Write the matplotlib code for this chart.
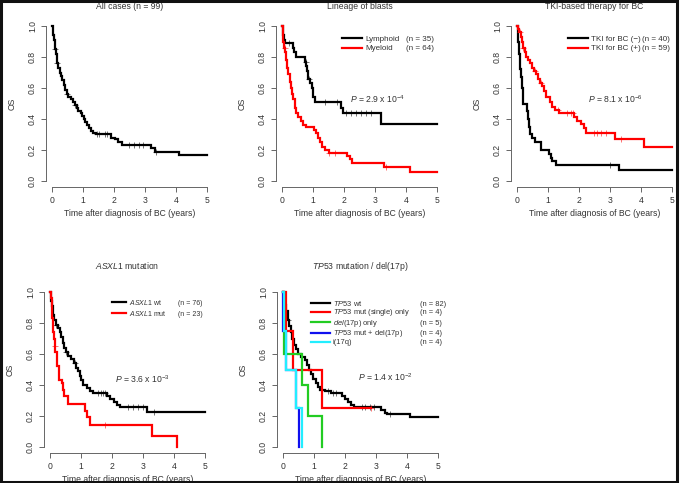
import numpy as np
import matplotlib.pyplot as plt
from matplotlib.patches import Rectangle

plt.rcParams['font.family'] = ['Liberation Sans', 'DejaVu Sans']
plt.rcParams['mathtext.fontset'] = 'custom'
plt.rcParams['mathtext.rm'] = 'Liberation Sans'
plt.rcParams['mathtext.it'] = 'Liberation Sans:italic'

# ---- all cases (n = 99)
all_t = [0, 0.02, 0.04, 0.06, 0.08, 0.10, 0.12, 0.14, 0.17, 0.20, 0.24, 0.29, 0.33, 0.37,
         0.42, 0.47, 0.52, 0.60, 0.68, 0.75, 0.80, 0.84, 0.92, 0.98, 1.02, 1.07, 1.12,
         1.18, 1.25, 1.32, 1.42, 1.90, 2.02, 2.12, 2.25, 3.18, 3.32, 4.10, 5.0]
all_s = [1.0, 0.97, 0.94, 0.91, 0.88, 0.85, 0.82, 0.79, 0.76, 0.73, 0.70, 0.68, 0.65, 0.62,
         0.59, 0.56, 0.54, 0.53, 0.51, 0.49, 0.47, 0.45, 0.44, 0.42, 0.40, 0.38, 0.36,
         0.34, 0.32, 0.31, 0.30, 0.28, 0.27, 0.25, 0.23, 0.21, 0.185, 0.165, 0.165]
all_ct = [0.10, 0.17, 0.49, 0.75, 1.44, 1.52, 1.72, 1.78, 2.48, 2.64, 2.80, 2.95, 3.35]

# ---- lineage of blasts
lym_t = [0, 0.03, 0.06, 0.10, 0.35, 0.38, 0.45, 0.73, 0.78, 0.80, 0.83, 0.90, 0.97, 1.00,
         1.05, 1.91, 1.97, 3.18, 5.0]
lym_s = [1.0, 0.94, 0.91, 0.89, 0.86, 0.83, 0.80, 0.77, 0.74, 0.71, 0.66, 0.63, 0.60, 0.54,
         0.51, 0.47, 0.44, 0.37, 0.37]
lym_ct = [0.22, 0.77, 0.86, 1.40, 1.78, 2.05, 2.22, 2.38, 2.54, 2.70, 2.86]
mye_t = [0, 0.02, 0.04, 0.07, 0.10, 0.12, 0.15, 0.19, 0.24, 0.28, 0.32, 0.36, 0.40, 0.42,
         0.46, 0.52, 0.60, 0.68, 0.78, 1.03, 1.10, 1.16, 1.23, 1.30, 1.40, 1.50, 2.10, 2.18,
         2.25, 3.29, 4.12, 5.0]
mye_s = [1.0, 0.95, 0.90, 0.86, 0.83, 0.78, 0.73, 0.69, 0.64, 0.60, 0.56, 0.53, 0.50, 0.47,
         0.44, 0.41, 0.39, 0.36, 0.35, 0.33, 0.31, 0.28, 0.25, 0.22, 0.20, 0.18, 0.16, 0.14,
         0.115, 0.09, 0.06, 0.06]
mye_ct = [0.09, 1.50, 1.72, 3.35]

# ---- TKI-based therapy
tkin_t = [0, 0.02, 0.05, 0.08, 0.10, 0.12, 0.15, 0.18, 0.20, 0.31, 0.35, 0.38, 0.42, 0.47,
          0.58, 0.78, 1.04, 1.08, 1.13, 1.25, 3.30, 5.0]
tkin_s = [1.0, 0.90, 0.82, 0.77, 0.72, 0.67, 0.60, 0.55, 0.50, 0.45, 0.40, 0.35, 0.30, 0.275,
          0.25, 0.20, 0.175, 0.15, 0.125, 0.10, 0.067, 0.067]
tkin_ct = [3.0]
tkip_t = [0, 0.03, 0.06, 0.12, 0.15, 0.20, 0.25, 0.30, 0.35, 0.42, 0.47, 0.55, 0.62, 0.68,
          0.73, 0.80, 0.87, 0.93, 1.05, 1.12, 1.22, 1.35, 1.85, 1.95, 2.05, 2.15, 2.22, 3.15,
          4.10, 5.0]
tkip_s = [1.0, 0.98, 0.96, 0.93, 0.90, 0.86, 0.83, 0.80, 0.78, 0.76, 0.73, 0.71, 0.69, 0.66,
          0.63, 0.61, 0.58, 0.54, 0.51, 0.48, 0.46, 0.44, 0.41, 0.39, 0.37, 0.34, 0.31, 0.27,
          0.22, 0.22]
tkip_ct = [0.10, 0.20, 0.56, 0.76, 1.32, 1.62, 1.74, 1.80, 2.47, 2.58, 2.72, 2.86, 3.35]

# ---- ASXL1
awt_t = [0, 0.02, 0.04, 0.06, 0.08, 0.10, 0.13, 0.18, 0.25, 0.32, 0.36, 0.40, 0.45, 0.50,
         0.58, 0.68, 0.76, 0.82, 0.90, 0.95, 1.00, 1.07, 1.18, 1.28, 1.40, 1.85, 1.95, 2.05,
         2.15, 2.25, 3.12, 5.0]
awt_s = [1.0, 0.97, 0.94, 0.91, 0.88, 0.85, 0.82, 0.79, 0.77, 0.74, 0.71, 0.67, 0.64, 0.61,
         0.59, 0.57, 0.54, 0.51, 0.49, 0.46, 0.43, 0.40, 0.38, 0.36, 0.35, 0.33, 0.31, 0.29,
         0.27, 0.255, 0.225, 0.225]
awt_ct = [0.20, 0.52, 0.80, 1.55, 1.65, 1.72, 1.78, 2.53, 2.69, 2.85, 3.01, 3.35]
amut_t = [0, 0.03, 0.05, 0.06, 0.07, 0.09, 0.10, 0.12, 0.15, 0.17, 0.21, 0.22, 0.27, 0.28,
          0.38, 0.43, 0.45, 0.59, 1.13, 1.20, 1.29, 3.30, 4.10, 4.10]
amut_s = [1.0, 0.96, 0.91, 0.87, 0.83, 0.78, 0.74, 0.70, 0.65, 0.61, 0.56, 0.52, 0.48, 0.43,
          0.41, 0.37, 0.33, 0.28, 0.23, 0.19, 0.14, 0.07, 0.0, 0.0]
amut_ct = [0.16, 1.77]

# ---- TP53 / del(17p)
twt_t = [0, 0.03, 0.06, 0.10, 0.15, 0.20, 0.25, 0.30, 0.35, 0.40, 0.48, 0.58, 0.70, 0.78,
         0.85, 0.90, 0.97, 1.05, 1.12, 1.20, 1.35, 1.55, 1.90, 2.00, 2.10, 2.20, 2.30, 3.15,
         3.30, 3.35, 4.10, 5.0]
twt_s = [1.0, 0.96, 0.92, 0.88, 0.82, 0.78, 0.74, 0.70, 0.66, 0.63, 0.60, 0.58, 0.56, 0.53,
         0.50, 0.47, 0.44, 0.41, 0.39, 0.37, 0.36, 0.35, 0.33, 0.31, 0.29, 0.27, 0.26, 0.24,
         0.22, 0.21, 0.19, 0.19]
twt_ct = [0.16, 1.45, 1.60, 1.70, 2.55, 2.65, 2.80, 2.95, 3.45]
tmut_t = [0, 0.10, 0.32, 1.27, 2.85]
tmut_s = [1.0, 0.75, 0.50, 0.25, 0.25]
tmut_ct = [2.85]
tdel_t = [0, 0.02, 0.04, 0.60, 0.80, 1.27, 1.27]
tdel_s = [1.0, 0.80, 0.60, 0.40, 0.20, 0.0, 0.0]
tboth_t = [0, 0.01, 0.10, 0.43, 0.51, 0.51]
tboth_s = [1.0, 0.75, 0.50, 0.25, 0.0, 0.0]
tiso_t = [0, 0.03, 0.10, 0.43, 0.61, 0.61]
tiso_s = [1.0, 0.75, 0.50, 0.25, 0.0, 0.0]

TXT = '#333333'
AXC = '#666666'
FS = 6.2
pending = []  # (ax, legend, n-labels, x, fontsize) -> n column placed after draw


def km(ax, t, s, ct=None, color='black'):
    ln, = ax.step(t, s, where='post', color=color, lw=1.6, solid_joinstyle='miter')
    if ct:
        idx = np.searchsorted(t, ct, side='right') - 1
        ax.plot(ct, np.array(s)[idx], ls='none', marker='+', ms=4, mew=0.7,
                color=color, alpha=0.55)
    return ln


def style(ax, title, tpad):
    ax.set_xlim(-0.2, 5.2)
    ax.set_ylim(-0.04, 1.04)
    for sp in ['top', 'right']:
        ax.spines[sp].set_visible(False)
    ax.spines['left'].set_bounds(0, 1)
    ax.spines['bottom'].set_bounds(0, 5)
    for sp in ['left', 'bottom']:
        ax.spines[sp].set_color(AXC)
        ax.spines[sp].set_linewidth(0.7)
    ax.set_xticks(range(6))
    ax.set_yticks([0, 0.2, 0.4, 0.6, 0.8, 1.0])
    ax.set_yticklabels(['0.0', '0.2', '0.4', '0.6', '0.8', '1.0'])
    ax.tick_params(length=3.5, width=0.7, color=AXC, labelsize=FS, labelcolor=TXT, pad=3)
    for lb in ax.get_yticklabels():
        lb.set_rotation(90)
        lb.set_va('center')
    ax.set_xlabel('Time after diagnosis of BC (years)', fontsize=FS, color=TXT, labelpad=2.5)
    ax.set_ylabel('OS', fontsize=FS, color=TXT, labelpad=8)
    ax.set_title(title, fontsize=FS, color=TXT, pad=tpad)


def legend2(ax, handles, names, ns, x0, xn, y0=0.91, fs=5.8, hl=2.5, sp=0.25):
    lg = ax.legend(handles, names, loc='upper left', bbox_to_anchor=(x0, y0),
                   frameon=False, fontsize=fs, labelspacing=sp, borderpad=0,
                   borderaxespad=0, labelcolor=TXT, handlelength=hl, handletextpad=0.4)
    pending.append((ax, lg, ns, xn, fs))


def pval(ax, x, y, txt):
    ax.text(x, y, txt, fontsize=FS, color=TXT, ha='left', va='center')


fig = plt.figure(figsize=(6.8, 4.83), dpi=100)
w, h = 167 / 680, 167 / 483
ax1 = fig.add_axes([46 / 680, 296 / 483, w, h])
ax2 = fig.add_axes([276 / 680, 296 / 483, w, h])
ax3 = fig.add_axes([511 / 680, 296 / 483, w, h])
ax4 = fig.add_axes([44 / 680, 30 / 483, w, h])
ax5 = fig.add_axes([277 / 680, 30 / 483, w, h])

# panel 1
km(ax1, all_t, all_s, all_ct)
style(ax1, 'All cases (n = 99)', 8)

# panel 2
l1 = km(ax2, lym_t, lym_s, lym_ct, 'black')
l2 = km(ax2, mye_t, mye_s, mye_ct, 'red')
style(ax2, 'Lineage of blasts', 8)
legend2(ax2, [l1, l2], ['Lymphoid', 'Myeloid'], ['(n = 35)', '(n = 64)'], 0.395, 0.778)
pval(ax2, 2.18, 0.53, r'$P$ = 2.9 x 10$^{-4}$')

# panel 3
l1 = km(ax3, tkin_t, tkin_s, tkin_ct, 'black')
l2 = km(ax3, tkip_t, tkip_s, tkip_ct, 'red')
style(ax3, 'TKI-based therapy for BC', 8)
legend2(ax3, [l1, l2], ['TKI for BC (\u2212)', 'TKI for BC (+)'], ['(n = 40)', '(n = 59)'],
        0.341, 0.784)
pval(ax3, 2.28, 0.53, r'$P$ = 8.1 x 10$^{-6}$')

# panel 4
l1 = km(ax4, awt_t, awt_s, awt_ct, 'black')
l2 = km(ax4, amut_t, amut_s, amut_ct, 'red')
style(ax4, r'$\mathit{ASXL1}$ mutation', 12)
legend2(ax4, [l1, l2], [r'$\mathit{ASXL1}$ wt', r'$\mathit{ASXL1}$ mut'],
        ['(n = 76)', '(n = 23)'], 0.407, 0.80, y0=0.93, fs=5.0, hl=2.0, sp=0.3)
pval(ax4, 2.1, 0.44, r'$P$ = 3.6 x 10$^{-3}$')

# panel 5
l1 = km(ax5, twt_t, twt_s, twt_ct, 'black')
l2 = km(ax5, tmut_t, tmut_s, tmut_ct, 'red')
l3 = km(ax5, tdel_t, tdel_s, None, '#22cc22')
l4 = km(ax5, tboth_t, tboth_s, None, '#1010ee')
l5 = km(ax5, tiso_t, tiso_s, None, '#22eeff')
style(ax5, r'$\mathit{TP53}$ mutation / del(17p)', 12)
legend2(ax5, [l1, l2, l3, l4, l5],
        [r'$\mathit{TP53}$ wt', r'$\mathit{TP53}$ mut (single) only', r'$\mathit{del}$(17p) only',
         r'$\mathit{TP53}$ mut + del(17p)', 'i(17q)'],
        ['(n = 82)', '(n = 4)', '(n = 5)', '(n = 4)', '(n = 4)'], 0.204, 0.856,
        y0=0.925, fs=5.4, hl=2.5, sp=-0.05)
pval(ax5, 2.42, 0.45, r'$P$ = 1.4 x 10$^{-2}$')

# n column: put each "(n = ..)" on the baseline of its legend row
fig.canvas.draw()
for ax, lg, ns, xn, fs in pending:
    for t, n in zip(lg.get_texts(), ns):
        disp = t.get_transform().transform(t.get_position())
        ya = ax.transAxes.inverted().transform(disp)[1]
        ax.text(xn, ya, n, transform=ax.transAxes, fontsize=fs, color=TXT,
                ha='left', va='baseline')

fig.patches.append(Rectangle((0.002, 0.003), 0.994, 0.994, transform=fig.transFigure,
                             fill=False, ec='#111111', lw=2.2))

fig.savefig('out.png', dpi=100)
